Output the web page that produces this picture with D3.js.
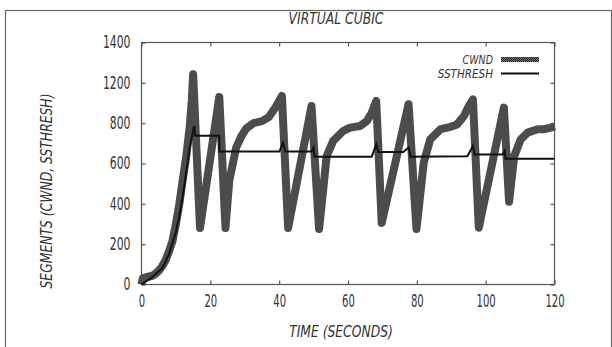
<!DOCTYPE html>
<html>
<head>
<meta charset="utf-8">
<script src="https://cdn.jsdelivr.net/npm/d3@7"></script>
<style>
  body { margin: 0; background: #fff; }
  text { font-family: "DejaVu Sans Condensed", "Liberation Sans Narrow", sans-serif; fill: #333; }
</style>
</head>
<body>
<div id="chart"></div>
<script>
// time (s) and cwnd (segments)
var cwndTime = [0, 0.4, 1.5, 3, 4, 5, 6, 7, 8, 9, 10, 11, 12, 13, 14, 14.6, 15.0,
  17.0, 22.6, 24.4, 25.5, 27.5, 29, 30.5, 32.5, 35, 37, 39, 40.8,
  42.6, 49.4, 51.6, 53.8, 55.7, 58.6, 60.6, 63.5, 65.5, 66.9, 68.2,
  69.8, 77.6, 79.9, 82.0, 83.9, 86.9, 89.8, 91.7, 93.7, 95.1, 96.3,
  98.0, 105.3, 106.8, 108.3, 110.2, 112.2, 115.1, 117.0, 119.0, 120];
var cwndValue = [0, 32, 37, 42, 52, 68, 90, 120, 165, 215, 300, 400, 520, 635, 780, 910, 1043,
  280, 930, 280, 513, 679, 735, 775, 800, 810, 830, 880, 935,
  280, 885, 275, 637, 712, 761, 778, 786, 811, 852, 910,
  305, 894, 275, 604, 720, 770, 782, 794, 836, 885, 918,
  282, 877, 410, 637, 720, 753, 770, 770, 778, 785];

var ssTime = [0, 3, 6, 8, 10, 11, 12, 13, 14, 15.3, 15.6, 22.6, 22.6,
  40.1, 41.1, 41.8, 49.4, 50.0, 50.3, 66.9, 68.2, 68.8, 76.1, 77.6, 78.2,
  94.7, 96.3, 96.8, 104.9, 105.5, 105.8, 120];
var ssValue = [0, 35, 80, 150, 260, 340, 440, 560, 680, 786, 738, 738, 660,
  660, 703, 660, 660, 680, 634, 634, 695, 657, 657, 680, 634,
  636, 687, 645, 645, 662, 624, 624];

// printed y labels (the axis skips 1000)
var yTicks = [0, 200, 400, 600, 800, 1000, 1200];
var yTickLabels = ["0", "200", "400", "600", "800", "1200", "1400"];
var xTicks = [0, 20, 40, 60, 80, 100, 120];

var margin = {top: 42.5, left: 141.5},
    width = 413,
    height = 242;

var svg = d3.select("#chart").append("svg")
    .attr("width", 612)
    .attr("height", 347);

// dotted texture of the thick cwnd line
var pat = svg.append("defs").append("pattern")
    .attr("id", "dots")
    .attr("patternUnits", "userSpaceOnUse")
    .attr("width", 2).attr("height", 2);
pat.append("rect").attr("width", 2).attr("height", 2).attr("fill", "#7d7d7d");
pat.append("rect").attr("width", 1).attr("height", 1).attr("fill", "#1a1a1a");
pat.append("rect").attr("x", 1).attr("y", 1).attr("width", 1).attr("height", 1).attr("fill", "#1a1a1a");

// narrow, tall lettering of the original
function squeeze(sel, perChar) {
  sel.attr("textLength", function() { return this.textContent.length * perChar; })
     .attr("lengthAdjust", "spacingAndGlyphs");
}

// outer frame
svg.append("rect")
    .attr("x", 5.5).attr("y", 10.5)
    .attr("width", 606).attr("height", 400)
    .attr("fill", "none")
    .attr("stroke", "#666")
    .attr("stroke-width", 1.2);

var x = d3.scaleLinear().domain([0, 120]).range([0, width]);
var y = d3.scaleLinear().domain([0, 1200]).range([height, 0]);

var g = svg.append("g")
    .attr("transform", "translate(" + margin.left + "," + margin.top + ")");

// axes, ticks pointing inwards on all sides
g.append("g")
    .attr("transform", "translate(0," + height + ")")
    .call(d3.axisBottom(x).tickValues(xTicks).tickSizeInner(-4).tickSizeOuter(0).tickPadding(10))
    .call(function(a) { a.select(".domain").remove(); })
    .selectAll("text").style("font-size", "17px").call(squeeze, 6.4);

g.append("g")
    .call(d3.axisTop(x).tickValues(xTicks).tickSizeInner(-4).tickSizeOuter(0).tickFormat(""))
    .call(function(a) { a.select(".domain").remove(); });

g.append("g")
    .call(d3.axisLeft(y).tickValues(yTicks).tickSizeInner(-4).tickSizeOuter(0).tickPadding(11)
      .tickFormat(function(d, i) { return yTickLabels[i]; }))
    .call(function(a) { a.select(".domain").remove(); })
    .selectAll("text").style("font-size", "17px").call(squeeze, 6.9);

g.append("g")
    .attr("transform", "translate(" + width + ",0)")
    .call(d3.axisRight(y).tickValues(yTicks).tickSizeInner(-4).tickSizeOuter(0).tickFormat(""))
    .call(function(a) { a.select(".domain").remove(); });

g.selectAll(".tick line").attr("stroke", "#555").attr("stroke-width", 1.2);
g.selectAll(".tick text").attr("fill", "#333").style("font-family", null);

g.append("rect")
    .attr("width", width).attr("height", height)
    .attr("fill", "none")
    .attr("stroke", "#555")
    .attr("stroke-width", 1.2);

var cwnd = cwndTime.map(function(t, i) { return [t, cwndValue[i]]; });
var ss = ssTime.map(function(t, i) { return [t, ssValue[i]]; });

var line = d3.line()
    .x(function(d) { return x(d[0]); })
    .y(function(d) { return y(d[1]); });

g.append("path")
    .datum(cwnd)
    .attr("d", line)
    .attr("fill", "none")
    .attr("stroke", "url(#dots)")
    .attr("stroke-width", 8)
    .attr("stroke-linejoin", "round");

g.append("path")
    .datum(ss)
    .attr("d", line)
    .attr("fill", "none")
    .attr("stroke", "#111")
    .attr("stroke-width", 2);

// legend
var legend = svg.append("g");
legend.append("text")
    .attr("x", 493).attr("y", 64)
    .attr("text-anchor", "end")
    .style("font-size", "12.5px").style("font-style", "italic")
    .text("CWND").call(squeeze, 7.6);
legend.append("line")
    .attr("x1", 501).attr("x2", 539).attr("y1", 59.5).attr("y2", 59.5)
    .attr("stroke", "url(#dots)").attr("stroke-width", 5);
legend.append("text")
    .attr("x", 493).attr("y", 77.5)
    .attr("text-anchor", "end")
    .style("font-size", "12.5px").style("font-style", "italic")
    .text("SSTHRESH").call(squeeze, 6.9);
legend.append("line")
    .attr("x1", 501).attr("x2", 539).attr("y1", 73.5).attr("y2", 73.5)
    .attr("stroke", "#111").attr("stroke-width", 2);

// titles
svg.append("text")
    .attr("x", 336).attr("y", 24)
    .attr("text-anchor", "middle")
    .style("font-size", "15px").style("font-style", "italic")
    .text("VIRTUAL CUBIC").call(squeeze, 7.3);

svg.append("text")
    .attr("x", 341).attr("y", 337)
    .attr("text-anchor", "middle")
    .style("font-size", "15px").style("font-style", "italic")
    .text("TIME (SECONDS)").call(squeeze, 7.4);

svg.append("text")
    .attr("transform", "translate(52,191) rotate(-90)")
    .attr("text-anchor", "middle")
    .style("font-size", "15px").style("font-style", "italic")
    .text("SEGMENTS (CWND, SSTHRESH)").call(squeeze, 7.8);
</script>
</body>
</html>
